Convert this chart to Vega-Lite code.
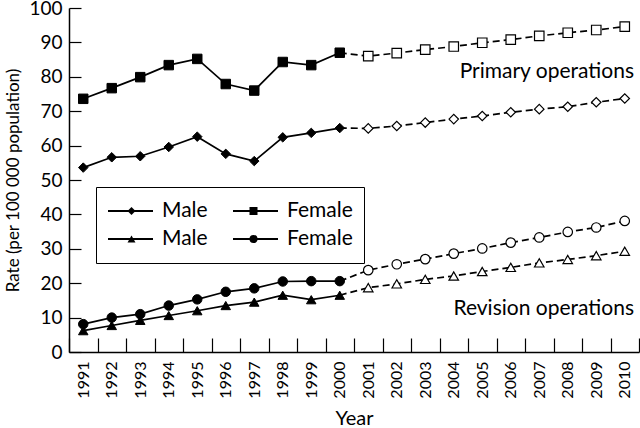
{
  "$schema": "https://vega.github.io/schema/vega-lite/v6.json",
  "width": 570,
  "height": 344,
  "autosize": "none",
  "padding": {"left": 69, "top": 8, "right": 1, "bottom": 76},
  "config": {
    "view": {"stroke": null},
    "font": "Lato",
    "axis": {"domainColor": "black", "domainWidth": 1.5, "tickColor": "black", "tickWidth": 1.2, "labelColor": "black", "titleColor": "black", "grid": false, "titleFontWeight": "normal"}
  },
  "datasets": {
    "rates": [
      {"series": "Male primary", "year": 1991, "rate": 53.6, "phase": "observed"},
      {"series": "Male primary", "year": 1992, "rate": 56.6, "phase": "observed"},
      {"series": "Male primary", "year": 1993, "rate": 56.9, "phase": "observed"},
      {"series": "Male primary", "year": 1994, "rate": 59.6, "phase": "observed"},
      {"series": "Male primary", "year": 1995, "rate": 62.6, "phase": "observed"},
      {"series": "Male primary", "year": 1996, "rate": 57.6, "phase": "observed"},
      {"series": "Male primary", "year": 1997, "rate": 55.5, "phase": "observed"},
      {"series": "Male primary", "year": 1998, "rate": 62.4, "phase": "observed"},
      {"series": "Male primary", "year": 1999, "rate": 63.7, "phase": "observed"},
      {"series": "Male primary", "year": 2000, "rate": 65.1, "phase": "observed"},
      {"series": "Male primary", "year": 2001, "rate": 65.0, "phase": "projected"},
      {"series": "Male primary", "year": 2002, "rate": 65.7, "phase": "projected"},
      {"series": "Male primary", "year": 2003, "rate": 66.7, "phase": "projected"},
      {"series": "Male primary", "year": 2004, "rate": 67.7, "phase": "projected"},
      {"series": "Male primary", "year": 2005, "rate": 68.6, "phase": "projected"},
      {"series": "Male primary", "year": 2006, "rate": 69.7, "phase": "projected"},
      {"series": "Male primary", "year": 2007, "rate": 70.6, "phase": "projected"},
      {"series": "Male primary", "year": 2008, "rate": 71.3, "phase": "projected"},
      {"series": "Male primary", "year": 2009, "rate": 72.6, "phase": "projected"},
      {"series": "Male primary", "year": 2010, "rate": 73.7, "phase": "projected"},
      {"series": "Female primary", "year": 1991, "rate": 73.6, "phase": "observed"},
      {"series": "Female primary", "year": 1992, "rate": 76.7, "phase": "observed"},
      {"series": "Female primary", "year": 1993, "rate": 79.9, "phase": "observed"},
      {"series": "Female primary", "year": 1994, "rate": 83.4, "phase": "observed"},
      {"series": "Female primary", "year": 1995, "rate": 85.2, "phase": "observed"},
      {"series": "Female primary", "year": 1996, "rate": 77.9, "phase": "observed"},
      {"series": "Female primary", "year": 1997, "rate": 76.0, "phase": "observed"},
      {"series": "Female primary", "year": 1998, "rate": 84.3, "phase": "observed"},
      {"series": "Female primary", "year": 1999, "rate": 83.4, "phase": "observed"},
      {"series": "Female primary", "year": 2000, "rate": 87.0, "phase": "observed"},
      {"series": "Female primary", "year": 2001, "rate": 86.0, "phase": "projected"},
      {"series": "Female primary", "year": 2002, "rate": 86.9, "phase": "projected"},
      {"series": "Female primary", "year": 2003, "rate": 87.9, "phase": "projected"},
      {"series": "Female primary", "year": 2004, "rate": 88.8, "phase": "projected"},
      {"series": "Female primary", "year": 2005, "rate": 89.9, "phase": "projected"},
      {"series": "Female primary", "year": 2006, "rate": 90.8, "phase": "projected"},
      {"series": "Female primary", "year": 2007, "rate": 91.9, "phase": "projected"},
      {"series": "Female primary", "year": 2008, "rate": 92.8, "phase": "projected"},
      {"series": "Female primary", "year": 2009, "rate": 93.6, "phase": "projected"},
      {"series": "Female primary", "year": 2010, "rate": 94.6, "phase": "projected"},
      {"series": "Male revision", "year": 1991, "rate": 6.2, "phase": "observed"},
      {"series": "Male revision", "year": 1992, "rate": 7.7, "phase": "observed"},
      {"series": "Male revision", "year": 1993, "rate": 9.2, "phase": "observed"},
      {"series": "Male revision", "year": 1994, "rate": 10.6, "phase": "observed"},
      {"series": "Male revision", "year": 1995, "rate": 12.0, "phase": "observed"},
      {"series": "Male revision", "year": 1996, "rate": 13.5, "phase": "observed"},
      {"series": "Male revision", "year": 1997, "rate": 14.5, "phase": "observed"},
      {"series": "Male revision", "year": 1998, "rate": 16.5, "phase": "observed"},
      {"series": "Male revision", "year": 1999, "rate": 15.2, "phase": "observed"},
      {"series": "Male revision", "year": 2000, "rate": 16.5, "phase": "observed"},
      {"series": "Male revision", "year": 2001, "rate": 18.7, "phase": "projected"},
      {"series": "Male revision", "year": 2002, "rate": 19.8, "phase": "projected"},
      {"series": "Male revision", "year": 2003, "rate": 21.1, "phase": "projected"},
      {"series": "Male revision", "year": 2004, "rate": 22.1, "phase": "projected"},
      {"series": "Male revision", "year": 2005, "rate": 23.4, "phase": "projected"},
      {"series": "Male revision", "year": 2006, "rate": 24.6, "phase": "projected"},
      {"series": "Male revision", "year": 2007, "rate": 25.9, "phase": "projected"},
      {"series": "Male revision", "year": 2008, "rate": 26.9, "phase": "projected"},
      {"series": "Male revision", "year": 2009, "rate": 28.0, "phase": "projected"},
      {"series": "Male revision", "year": 2010, "rate": 29.3, "phase": "projected"},
      {"series": "Female revision", "year": 1991, "rate": 8.1, "phase": "observed"},
      {"series": "Female revision", "year": 1992, "rate": 10.0, "phase": "observed"},
      {"series": "Female revision", "year": 1993, "rate": 11.0, "phase": "observed"},
      {"series": "Female revision", "year": 1994, "rate": 13.5, "phase": "observed"},
      {"series": "Female revision", "year": 1995, "rate": 15.3, "phase": "observed"},
      {"series": "Female revision", "year": 1996, "rate": 17.5, "phase": "observed"},
      {"series": "Female revision", "year": 1997, "rate": 18.5, "phase": "observed"},
      {"series": "Female revision", "year": 1998, "rate": 20.5, "phase": "observed"},
      {"series": "Female revision", "year": 1999, "rate": 20.6, "phase": "observed"},
      {"series": "Female revision", "year": 2000, "rate": 20.6, "phase": "observed"},
      {"series": "Female revision", "year": 2001, "rate": 23.8, "phase": "projected"},
      {"series": "Female revision", "year": 2002, "rate": 25.5, "phase": "projected"},
      {"series": "Female revision", "year": 2003, "rate": 27.0, "phase": "projected"},
      {"series": "Female revision", "year": 2004, "rate": 28.6, "phase": "projected"},
      {"series": "Female revision", "year": 2005, "rate": 30.1, "phase": "projected"},
      {"series": "Female revision", "year": 2006, "rate": 31.8, "phase": "projected"},
      {"series": "Female revision", "year": 2007, "rate": 33.3, "phase": "projected"},
      {"series": "Female revision", "year": 2008, "rate": 34.9, "phase": "projected"},
      {"series": "Female revision", "year": 2009, "rate": 36.2, "phase": "projected"},
      {"series": "Female revision", "year": 2010, "rate": 38.1, "phase": "projected"}
    ],
    "notes": [
      {"label": "Primary operations", "year": 2010.5, "rate": 79.7},
      {"label": "Revision operations", "year": 2010.5, "rate": 10.8}
    ]
  },
  "encoding": {
    "x": {
      "field": "year", "type": "quantitative",
      "scale": {"domain": [1990.5, 2010.5], "nice": false, "zero": false},
      "axis": {
        "title": "Year", "titleFontSize": 20, "titlePadding": 10,
        "values": [1990.5, 1991, 1991.5, 1992, 1992.5, 1993, 1993.5, 1994, 1994.5, 1995, 1995.5, 1996, 1996.5, 1997, 1997.5, 1998, 1998.5, 1999, 1999.5, 2000, 2000.5, 2001, 2001.5, 2002, 2002.5, 2003, 2003.5, 2004, 2004.5, 2005, 2005.5, 2006, 2006.5, 2007, 2007.5, 2008, 2008.5, 2009, 2009.5, 2010, 2010.5],
        "labelExpr": "datum.value % 1 === 0 ? '' + datum.value : ''",
        "labelAngle": 270, "labelFontSize": 16, "labelPadding": 23, "labelOverlap": false, "labelFlush": false,
        "tickSize": -14,
        "tickOpacity": {"condition": {"test": "datum.value % 1 === 0", "value": 0}, "value": 1}
      }
    },
    "y": {
      "field": "rate", "type": "quantitative",
      "scale": {"domain": [0, 100], "nice": false},
      "axis": {
        "title": "Rate (per 100 000 population)", "titleFontSize": 17, "titlePadding": 6,
        "values": [0, 10, 20, 30, 40, 50, 60, 70, 80, 90, 100],
        "labelFontSize": 19, "labelPadding": 19, "tickSize": -12, "labelFlush": false
      }
    }
  },
  "layer": [
    {
      "data": {"name": "rates"},
      "transform": [{"filter": "datum.year <= 2000"}],
      "mark": {"type": "line", "strokeWidth": 1.7},
      "encoding": {
        "color": {
          "field": "series", "type": "nominal",
          "sort": ["Male primary", "Female primary", "Male revision", "Female revision"],
          "scale": {"range": ["black", "black", "black", "black"]},
          "legend": {
            "orient": "none", "legendX": 27, "legendY": 179, "columns": 2, "direction": "horizontal", "title": null,
            "strokeColor": "black", "padding": 11,
            "labelFont": "Lato", "labelFontSize": 21, "labelColor": "black", "labelOffset": 8,
            "labelExpr": "split(datum.label, ' ')[0]",
            "symbolType": "stroke", "symbolSize": 2025, "symbolStrokeWidth": 1.8, "symbolStrokeColor": "black",
            "clipHeight": 26,
            "columnPadding": 24, "rowPadding": 2
          }
        }
      }
    },
    {
      "data": {"name": "rates"},
      "transform": [{"filter": "datum.year >= 2000"}],
      "mark": {"type": "line", "color": "black", "strokeWidth": 1.7, "strokeDash": [7, 4]},
      "encoding": {"detail": {"field": "series"}}
    },
    {
      "data": {"name": "rates"},
      "transform": [{"filter": "datum.phase === 'observed'"}],
      "mark": {"type": "point", "filled": true, "fill": "black", "stroke": "black", "strokeWidth": 1, "opacity": 1, "size": 90},
      "encoding": {
        "shape": {
          "field": "series", "type": "nominal",
          "scale": {"domain": ["Male primary", "Female primary", "Male revision", "Female revision"], "range": ["diamond", "square", "triangle-up", "circle"]},
          "legend": {
            "orient": "none", "legendX": 27, "legendY": 179, "columns": 2, "direction": "horizontal", "title": null,
            "padding": 11,
            "labelFont": "Lato", "labelFontSize": 21, "labelColor": "transparent", "labelOffset": 62.5,
            "labelExpr": "''",
            "symbolSize": 64, "symbolOffset": 14, "symbolStrokeWidth": 1, "symbolFillColor": "black", "symbolStrokeColor": "black", "symbolOpacity": 1,
            "clipHeight": 26,
            "columnPadding": 24, "rowPadding": 2
          }
        }
      }
    },
    {
      "data": {"name": "rates"},
      "transform": [{"filter": "datum.phase === 'projected'"}],
      "mark": {"type": "point", "filled": true, "fill": "white", "stroke": "black", "strokeWidth": 1.2, "opacity": 1, "size": 90},
      "encoding": {"shape": {"field": "series", "type": "nominal"}}
    },
    {
      "data": {"name": "notes"},
      "mark": {"type": "text", "align": "right", "baseline": "alphabetic", "dx": -5, "fontSize": 21, "color": "black", "font": "Lato"},
      "encoding": {"text": {"field": "label"}}
    }
  ]
}
